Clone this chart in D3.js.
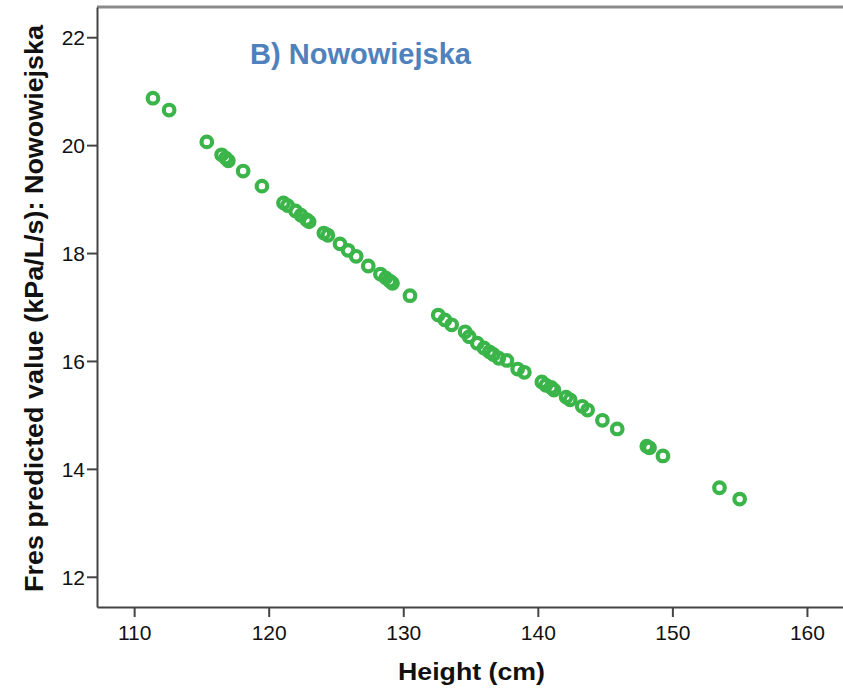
<!DOCTYPE html>
<html>
<head>
<meta charset="utf-8">
<script src="https://cdn.jsdelivr.net/npm/d3@7/dist/d3.min.js"></script>
<style>
  html, body { margin: 0; padding: 0; background: #fff; }
  svg { display: block; }
  text { font-family: "Liberation Sans", Arial, sans-serif; }
</style>
</head>
<body>
<svg id="chart" width="843" height="690"></svg>
<script>
// Data
const heightCm = [111.4, 112.6, 115.4, 116.5, 116.8, 117.0, 118.1, 119.5, 121.1, 121.4,
  122.0, 122.4, 122.8, 123.0, 124.1, 124.4, 125.3, 125.9, 126.5, 127.4,
  128.3, 128.7, 129.0, 129.2, 130.5, 132.6, 133.1, 133.6, 134.6, 134.9,
  135.5, 136.0, 136.4, 136.7, 137.1, 137.7, 138.5, 139.0, 140.3, 140.6,
  141.0, 141.2, 142.1, 142.4, 143.3, 143.7, 144.8, 145.9, 148.1, 148.3,
  149.3, 153.5, 155.0];
const fresPredicted = [20.87, 20.65, 20.06, 19.82, 19.76, 19.71, 19.52, 19.24, 18.93, 18.88,
  18.78, 18.70, 18.62, 18.58, 18.37, 18.33, 18.17, 18.05, 17.94, 17.76,
  17.61, 17.54, 17.48, 17.44, 17.21, 16.85, 16.76, 16.67, 16.54, 16.45,
  16.33, 16.24, 16.17, 16.12, 16.05, 16.01, 15.85, 15.79, 15.61, 15.55,
  15.51, 15.46, 15.33, 15.28, 15.16, 15.09, 14.90, 14.74, 14.42, 14.39,
  14.24, 13.65, 13.44];
const xTicks = [110, 120, 130, 140, 150, 160];
const yTicks = [12, 14, 16, 18, 20, 22];
const chartTitle = "B) Nowowiejska";
const xTitle = "Height (cm)";
const yTitle = "Fres predicted value (kPa/L/s): Nowowiejska";

const svg = d3.select("#chart");
const plotLeft = 97, plotRight = 843, plotTop = 7, plotBottom = 607;

const x = d3.scaleLinear().domain([107.24, 162.68]).range([plotLeft, plotRight]);
const y = d3.scaleLinear().domain([11.44, 22.56]).range([plotBottom, plotTop]);

// top frame line (grey)
svg.append("line")
  .attr("x1", plotLeft).attr("x2", plotRight)
  .attr("y1", plotTop).attr("y2", plotTop)
  .attr("stroke", "#8a8a8a").attr("stroke-width", 3);

// axes
const xAxis = svg.append("g")
  .attr("transform", `translate(0,${plotBottom})`)
  .call(d3.axisBottom(x).tickValues(xTicks).tickSize(10).tickSizeOuter(0).tickPadding(8).tickFormat(d3.format("d")));
const yAxis = svg.append("g")
  .attr("transform", `translate(${plotLeft},0)`)
  .call(d3.axisLeft(y).tickValues(yTicks).tickSize(10).tickSizeOuter(0).tickPadding(2).tickFormat(d3.format("d")));

[xAxis, yAxis].forEach(g => {
  g.select(".domain").attr("stroke", "#444").attr("stroke-width", 2);
  g.selectAll(".tick line").attr("stroke", "#444").attr("stroke-width", 2);
  g.selectAll(".tick text")
    .attr("fill", "#111")
    .style("font-size", "21px")
    .style("font-family", "'Liberation Sans', Arial, sans-serif");
});
yAxis.selectAll(".tick text").attr("dy", "0.36em");

// points
svg.append("g")
  .selectAll("circle")
  .data(heightCm.map((h, i) => [h, fresPredicted[i]]))
  .join("circle")
  .attr("cx", d => x(d[0]))
  .attr("cy", d => y(d[1]))
  .attr("r", 5.3)
  .attr("fill", "none")
  .attr("stroke", "#3bb54a")
  .attr("stroke-width", 4.2);

// chart title
svg.append("text")
  .attr("x", 250).attr("y", 64)
  .attr("fill", "#4f81bd")
  .style("font-size", "29px")
  .style("font-weight", "bold")
  .attr("textLength", 221)
  .attr("lengthAdjust", "spacingAndGlyphs")
  .text(chartTitle);

// x axis title
svg.append("text")
  .attr("x", 398).attr("y", 680)
  .attr("fill", "#111")
  .style("font-size", "24px")
  .style("font-weight", "bold")
  .attr("textLength", 147)
  .attr("lengthAdjust", "spacingAndGlyphs")
  .text(xTitle);

// y axis title
svg.append("text")
  .attr("transform", "translate(43,592) rotate(-90)")
  .attr("x", 0).attr("y", 0)
  .attr("fill", "#111")
  .style("font-size", "25px")
  .style("font-weight", "bold")
  .attr("textLength", 567)
  .attr("lengthAdjust", "spacingAndGlyphs")
  .text(yTitle);
</script>
</body>
</html>
